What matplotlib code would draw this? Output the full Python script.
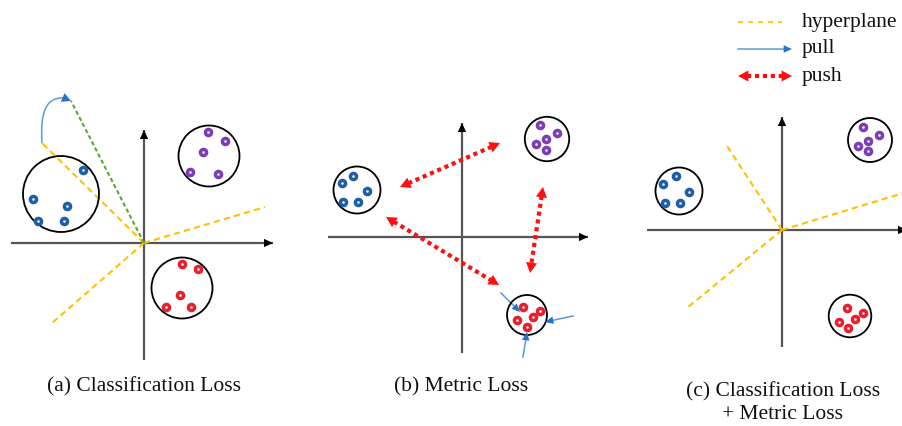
import numpy as np
import matplotlib.pyplot as plt
from matplotlib.patches import Circle, FancyArrowPatch
from matplotlib.path import Path

plt.rcParams['font.family'] = ['Liberation Serif', 'DejaVu Serif']

# colours
BLUE = '#1c5ea8'
PURPLE = '#7a3db3'
RED = '#e8202e'
YELLOW = '#ffc000'
GREEN = '#5aa832'
PULL = '#5b9bd5'
PULL_HEAD = '#2a72c9'
PUSH = '#ff1010'
AXIS = '#555555'

# everything is laid out in pixel space of the 902x426 picture

# (a) Classification Loss
a_origin = (144, 243)
a_xaxis = (11, 273)
a_yaxis = (360, 130)
a_blue = [(83, 170), (33, 199), (67, 206), (38, 221), (64, 221)]
a_purple = [(208, 132), (225, 141), (203, 152), (190, 172), (218, 174)]
a_red = [(182, 264), (198, 269), (180, 295), (166, 307), (191, 307)]
a_circles = [(61, 194, 38), (209, 156, 30.5), (182, 288, 30.5)]
a_hyper = [(265, 207), (52, 323), (42, 143)]
a_weight = (71, 101)
a_curve = [(42, 143), (40, 112), (46, 97), (64, 98)]

# (b) Metric Loss
b_origin = (462, 237)
b_xaxis = (328, 588)
b_yaxis = (353, 123)
b_blue = [(342, 183), (353, 176), (367, 191), (343, 202), (358, 202)]
b_purple = [(540, 125), (557, 133), (546, 139), (536, 144), (546, 150)]
b_red = [(523, 307), (540, 311), (533, 317), (517, 320), (527, 327)]
b_circles = [(357, 190, 23.5), (547, 139, 22.2), (527, 315, 20)]
b_push = [((400, 187), (500, 143)), ((386, 217), (499, 285)), ((543, 187), (530, 273))]
b_pull = [((501, 293), (520, 312)), ((573, 316), (545, 322)), ((523, 357), (527, 332))]

# (c) Classification Loss + Metric Loss
c_origin = (782, 230)
c_xaxis = (647, 907)
c_yaxis = (347, 117)
c_blue = [(676, 176), (663, 184), (689, 192), (665, 203), (680, 203)]
c_purple = [(863, 127), (879, 135), (868, 141), (858, 146), (868, 151)]
c_red = [(847, 308), (863, 313), (855, 319), (839, 322), (848, 328)]
c_circles = [(679, 191, 23.5), (870, 140, 22), (850, 316, 21.3)]
c_hyper = [(727, 146), (910, 191), (687, 308)]

captions = ['(a) Classification Loss', '(b) Metric Loss',
            '(c) Classification Loss\n+ Metric Loss']
caption_pos = [(144, 387), (461, 387), (783, 403)]

legend_labels = ['hyperplane', 'pull', 'push']
legend_y = [22, 49, 76]

fig = plt.figure(figsize=(9.02, 4.26), dpi=100)
ax = fig.add_axes([0, 0, 1, 1])
ax.set_xlim(0, 902)
ax.set_ylim(426, 0)
ax.axis('off')


def head(p_from, p_to, color, hl=6, hw=2.6):
    ax.add_patch(FancyArrowPatch(p_from, p_to, arrowstyle=f'-|>,head_length={hl},head_width={hw}',
                                 color=color, lw=0, shrinkA=0, shrinkB=0, zorder=5))


def back(p_from, p_to, px):
    p0, p1 = np.array(p_from, float), np.array(p_to, float)
    d = (p1 - p0) / np.linalg.norm(p1 - p0)
    return tuple(p1 - d * px)


def axes_cross(origin, xaxis, yaxis):
    ox, oy = origin
    ax.plot(xaxis, [oy, oy], color=AXIS, lw=1.6, solid_capstyle='butt')
    ax.plot([ox, ox], yaxis, color=AXIS, lw=1.6, solid_capstyle='butt')
    head((xaxis[0], oy), (xaxis[1], oy), 'black', 6.5, 3)
    head((ox, yaxis[0]), (ox, yaxis[1]), 'black', 6.5, 3)


def clusters(circles, groups):
    for cx, cy, r in circles:
        ax.add_patch(Circle((cx, cy), r, fill=False, ec='black', lw=1.3, zorder=3))
    for pts, col in zip(groups, [BLUE, PURPLE, RED]):
        xs, ys = zip(*pts)
        ax.plot(xs, ys, 'o', ms=4.4, mfc='white', mec=col, mew=2.5, ls='none', zorder=4)


def hyperplanes(origin, ends, lw=1.5):
    for e in ends:
        ax.plot([origin[0], e[0]], [origin[1], e[1]], color=YELLOW, lw=lw,
                ls=(0, (3, 2)), zorder=2)


def push(p, q, hl=7.5, hw=4):
    a, b = back(q, p, hl * 1.2), back(p, q, hl * 1.2)
    ax.plot([a[0], b[0]], [a[1], b[1]], color=PUSH, lw=3, ls=(0, (1, 0.9)),
            dash_capstyle='butt', zorder=2)
    head(q, p, PUSH, hl, hw)
    head(p, q, PUSH, hl, hw)


def pull(p, q):
    b = back(p, q, 7)
    ax.plot([p[0], b[0]], [p[1], b[1]], color=PULL, lw=1.1, zorder=2)
    head(p, q, PULL_HEAD, 6, 2.7)


# panel (a)
axes_cross(a_origin, a_xaxis, a_yaxis)
hyperplanes(a_origin, a_hyper)
ax.plot([a_origin[0], a_weight[0]], [a_origin[1], a_weight[1]], color=GREEN, lw=1.5,
        ls=(0, (2, 1.3)), zorder=2)
ax.add_patch(FancyArrowPatch(path=Path(a_curve, [Path.MOVETO, Path.CURVE4, Path.CURVE4, Path.CURVE4]),
                             arrowstyle='-', color=PULL, lw=1.1))
head(a_curve[-1], a_weight, PULL_HEAD, 6.5, 3.4)
clusters(a_circles, [a_blue, a_purple, a_red])

# panel (b)
axes_cross(b_origin, b_xaxis, b_yaxis)
for p, q in b_push:
    push(p, q)
for p, q in b_pull:
    pull(p, q)
clusters(b_circles, [b_blue, b_purple, b_red])

# panel (c)
axes_cross(c_origin, c_xaxis, c_yaxis)
hyperplanes(c_origin, c_hyper)
clusters(c_circles, [c_blue, c_purple, c_red])

# captions
for txt, (x, y) in zip(captions, caption_pos):
    ax.text(x, y, txt, ha='center', va='center', fontsize=15.5, color='#111111',
            linespacing=1.3)

# legend
ax.plot([738, 782], [legend_y[0]] * 2, color=YELLOW, lw=1.2, ls=(0, (3, 3)))
pull((738, legend_y[1]), (792, legend_y[1]))
push((738, legend_y[2]), (792, legend_y[2]))
for lab, y in zip(legend_labels, legend_y):
    ax.text(802, y, lab, ha='left', va='center', fontsize=15.5, color='#111111')

fig.savefig('out.png', dpi=100)
